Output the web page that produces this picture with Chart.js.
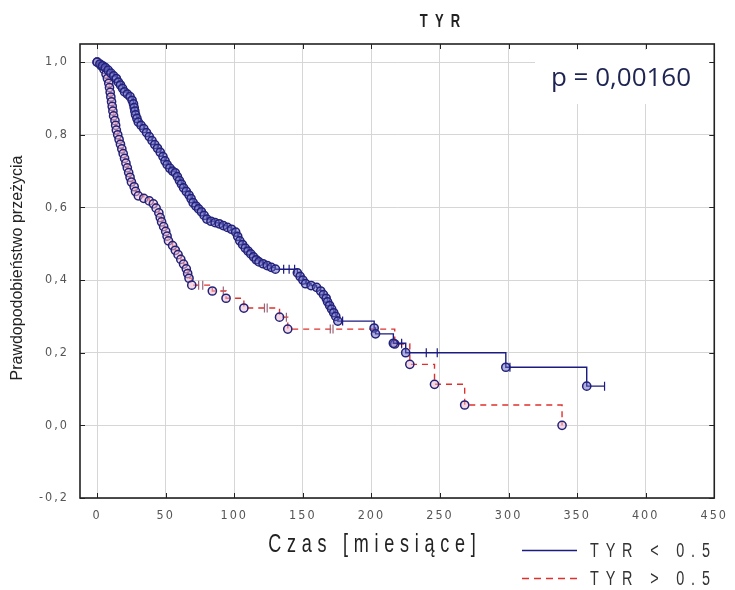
<!DOCTYPE html>
<html lang="pl">
<head>
<meta charset="UTF-8">
<title>TYR</title>
<script src="https://cdn.jsdelivr.net/npm/chart.js"></script>
<style>
  body { margin: 0; background: #fff; }
</style>
</head>
<body>
<canvas id="km" width="735" height="590"></canvas>
<script>
// axis ticks
const xTicks = [0, 50, 100, 150, 200, 250, 300, 350, 400, 450];
const yTicks = [-0.2, 0, 0.2, 0.4, 0.6, 0.8, 1.0];
const seriesNames = ["TYR < 0.5", "TYR > 0.5"];
const pText = "p = 0,00160";

// TYR < 0.5 : time (months), survival, censored times
const blueT = [0, 2, 4, 6, 8, 10, 12, 14, 15.5, 17, 18.5, 20, 22, 24, 25.5, 26.5, 27, 27.5, 28, 29, 30,
  32, 34, 36, 38, 40, 42, 44, 46, 48, 49.5, 51, 53, 55, 57, 58.5, 60, 61.5, 63, 65, 67, 68.5, 70,
  72, 74, 76, 78, 80, 83, 86, 89, 92, 95, 98, 101, 102.5, 104, 106, 108, 110, 112, 114, 116, 118, 121, 124, 127, 130,
  136, 140, 144, 146, 148, 150, 152, 156, 160, 163, 165, 167, 168, 169.5, 171, 172.5, 174, 175.5,
  179, 202, 203, 216, 222, 225, 240, 248, 298, 301, 357, 370];
const blueS = [1, 0.995, 0.99, 0.985, 0.978, 0.97, 0.962, 0.955, 0.945, 0.937, 0.928, 0.918, 0.912, 0.905, 0.895, 0.885, 0.875, 0.865, 0.855, 0.845, 0.835,
  0.826, 0.817, 0.806, 0.795, 0.784, 0.773, 0.763, 0.752, 0.74, 0.728, 0.718, 0.708, 0.7, 0.695, 0.685, 0.674, 0.664, 0.654, 0.644, 0.634, 0.624, 0.613,
  0.604, 0.596, 0.588, 0.578, 0.568, 0.562, 0.558, 0.555, 0.55, 0.545, 0.54, 0.532, 0.52, 0.508, 0.498, 0.488, 0.48, 0.472, 0.464, 0.456, 0.45, 0.445, 0.44, 0.435, 0.43,
  0.43, 0.43, 0.43, 0.42, 0.41, 0.40, 0.39, 0.385, 0.38, 0.37, 0.36, 0.35, 0.34, 0.33, 0.32, 0.31, 0.30, 0.287,
  0.287, 0.268, 0.252, 0.226, 0.226, 0.20, 0.20, 0.20, 0.16, 0.16, 0.108, 0.108];
const blueCens = [136, 140, 144, 179, 222, 240, 248, 301, 370];

// TYR > 0.5
const redT = [0, 3, 5, 6.5, 7.5, 8.5, 9, 9.5, 10, 10.5, 11, 11.5, 12, 13, 13.5, 14, 15, 16, 17, 18,
  19, 20, 21, 22, 23, 24, 25, 27, 28, 30, 34, 38, 41, 43, 45, 46, 47, 48.5, 50, 51,
  52, 55, 57, 59, 61, 63, 65, 66, 67, 69, 74, 77, 84, 92, 94, 107, 122, 124, 133, 138,
  139, 170, 172, 217, 222, 228, 246, 268, 339];
const redS = [1, 0.99, 0.98, 0.967, 0.955, 0.942, 0.93, 0.917, 0.904, 0.891, 0.878, 0.865, 0.852, 0.839, 0.826, 0.813, 0.80, 0.787, 0.774, 0.761,
  0.748, 0.735, 0.722, 0.709, 0.696, 0.683, 0.67, 0.657, 0.644, 0.632, 0.625, 0.618, 0.61, 0.598, 0.585, 0.572, 0.56, 0.547, 0.534, 0.521,
  0.508, 0.495, 0.482, 0.47, 0.457, 0.444, 0.431, 0.418, 0.405, 0.386, 0.386, 0.386, 0.37, 0.37, 0.35, 0.323, 0.323, 0.323, 0.298, 0.298,
  0.265, 0.265, 0.265, 0.224, 0.224, 0.168, 0.113, 0.056, 0];
const redCens = [74, 77, 92, 122, 124, 138, 170, 172, 222];

const sans = "'Liberation Sans', Arial, sans-serif";
const BLUE = '#1b1b80';
const RED = '#e0302c';

function kmDataset(label, ts, ss, cens, color, dash, fill, censColor) {
  const isC = ts.map(t => cens.includes(t));
  return {
    label,
    data: ts.map((t, i) => ({ x: t, y: ss[i] })),
    stepped: 'before',
    borderColor: color,
    borderWidth: 1.4,
    borderDash: dash,
    pointStyle: isC.map(c => c ? 'line' : 'circle'),
    pointRotation: isC.map(c => c ? 90 : 0),
    pointRadius: isC.map(c => c ? 4.5 : 4.1),
    pointBorderWidth: isC.map(c => c ? 1.2 : 1.5),
    pointBorderColor: isC.map(c => c ? censColor : '#22227a'),
    pointBackgroundColor: fill
  };
}

// condensed text: regular font squeezed horizontally
function narrowText(ctx, text, x, y, size, spacing, align, weight) {
  const sx = 0.72;
  ctx.save();
  ctx.font = (weight || '') + ' ' + size + 'px ' + sans;
  ctx.letterSpacing = spacing + 'px';
  ctx.textBaseline = 'middle';
  ctx.textAlign = 'left';
  const w = ctx.measureText(text).width - spacing;
  let left = x;
  if (align === 'center') left = x - w * sx / 2;
  else if (align === 'right') left = x - w * sx;
  ctx.translate(left, y);
  ctx.scale(sx, 1);
  ctx.fillText(text, 0, 0);
  ctx.restore();
}

const decor = {
  id: 'decor',
  beforeDraw(chart) {
    chart.ctx.letterSpacing = '2px';
  },
  beforeDatasetsDraw(chart) {
    const ctx = chart.ctx;
    ctx.save();
    ctx.fillStyle = '#fff';
    ctx.fillRect(535, 50, 188, 54);
    ctx.restore();
  },
  afterDraw(chart) {
    const { ctx, chartArea: a, scales: { x, y } } = chart;
    ctx.save();
    ctx.letterSpacing = '0px';
    const seg = (x1, y1, x2, y2) => { ctx.beginPath(); ctx.moveTo(x1, y1); ctx.lineTo(x2, y2); ctx.stroke(); };

    // frame and inward ticks
    ctx.strokeStyle = '#222';
    ctx.lineWidth = 1.6;
    ctx.strokeRect(a.left, a.top, a.right - a.left, a.bottom - a.top);
    ctx.lineWidth = 1;
    xTicks.forEach(v => {
      const px = Math.round(x.getPixelForValue(v)) + 0.5;
      seg(px, a.top, px, a.top + 5);
      seg(px, a.bottom, px, a.bottom - 5);
    });
    yTicks.forEach(v => {
      const py = Math.round(y.getPixelForValue(v)) + 0.5;
      seg(a.left, py, a.left + 5, py);
      seg(a.right, py, a.right - 5, py);
    });

    ctx.fillStyle = '#222';
    // title
    narrowText(ctx, 'TYR', 440, 22, 18, 10, 'center', 'bold');
    // x title
    narrowText(ctx, 'Czas [miesiące]', 372, 545, 25, 8, 'center');

    // y title
    ctx.save();
    ctx.translate(18, 268);
    ctx.rotate(-Math.PI / 2);
    ctx.textAlign = 'center';
    ctx.textBaseline = 'middle';
    ctx.font = '16px ' + sans;
    ctx.fillText('Prawdopodobieństwo przeżycia', 0, 0);
    ctx.restore();

    // p value
    ctx.textAlign = 'center';
    ctx.textBaseline = 'middle';
    ctx.font = '500 26px "Open Sans", sans-serif';
    ctx.fillStyle = '#1e2452';
    ctx.fillText(pText, 621, 79);

    // legend
    ctx.lineWidth = 1.5;
    ctx.strokeStyle = BLUE;
    seg(522, 550.5, 577, 550.5);
    ctx.strokeStyle = RED;
    ctx.setLineDash([7, 5]);
    seg(522, 578.5, 577, 578.5);
    ctx.setLineDash([]);
    ctx.fillStyle = '#333';
    narrowText(ctx, seriesNames[0], 590, 551, 20, 9.5, 'left');
    narrowText(ctx, seriesNames[1], 590, 579, 20, 9.5, 'left');
    ctx.restore();
  }
};

const tickFont = { family: "'DejaVu Sans Condensed', 'DejaVu Sans', sans-serif", size: 12.5 };

new Chart(document.getElementById('km'), {
  type: 'line',
  data: {
    datasets: [
      kmDataset(seriesNames[0], blueT, blueS, blueCens, BLUE, [], 'rgba(100,100,190,0.5)', BLUE),
      kmDataset(seriesNames[1], redT, redS, redCens, RED, [6, 5], 'rgba(235,185,205,0.55)', '#9a6478')
    ]
  },
  options: {
    responsive: false,
    animation: false,
    layout: { padding: { top: 44, right: 11, left: 0, bottom: 0 } },
    plugins: { legend: { display: false }, tooltip: { enabled: false } },
    scales: {
      x: {
        type: 'linear',
        min: -12.5,
        max: 450,
        afterBuildTicks: s => { s.ticks = xTicks.map(v => ({ value: v })); },
        afterFit: s => { s.height = 92; },
        grid: { color: '#d6d6d6', lineWidth: 1, drawTicks: false },
        border: { display: false },
        ticks: { padding: 10, color: '#555', font: tickFont, maxRotation: 0, autoSkip: false }
      },
      y: {
        type: 'linear',
        min: -0.2,
        max: 1.05,
        afterBuildTicks: s => { s.ticks = yTicks.map(v => ({ value: v })); },
        afterFit: s => { s.width = 80; },
        grid: { color: '#d6d6d6', lineWidth: 1, drawTicks: false },
        border: { display: false },
        ticks: {
          padding: 11, color: '#555', font: tickFont, autoSkip: false,
          callback: v => v.toFixed(1).replace('.', ',')
        }
      }
    }
  },
  plugins: [decor]
});
</script>
</body>
</html>
